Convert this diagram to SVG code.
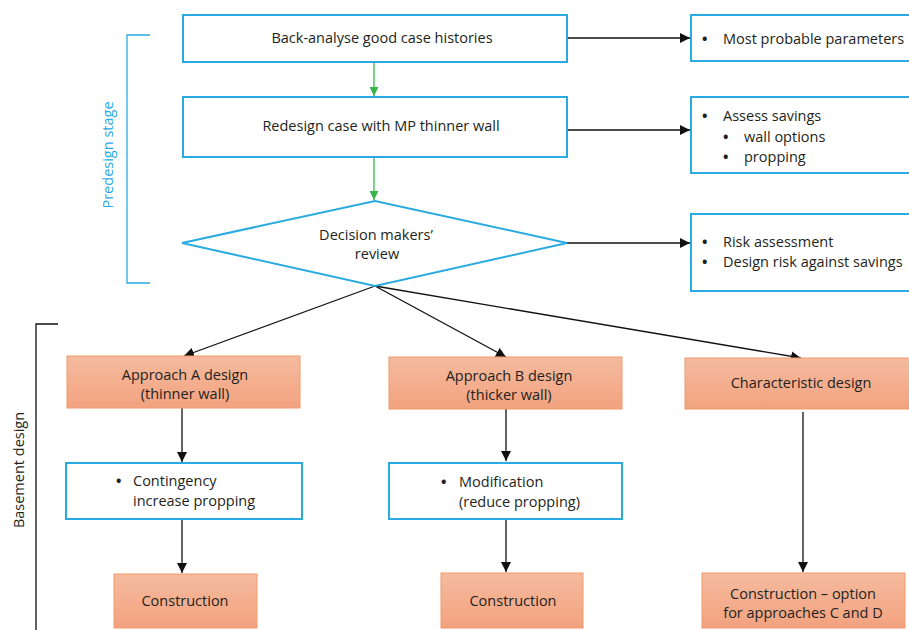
<svg xmlns="http://www.w3.org/2000/svg" width="909" height="630" viewBox="0 0 909 630">
<defs>
<linearGradient id="og" x1="0" y1="0" x2="0" y2="1">
<stop offset="0" stop-color="#f5bb9f"/>
<stop offset="1" stop-color="#f2a27f"/>
</linearGradient>
<marker id="ab" viewBox="0 0 10 10" refX="10" refY="5" markerWidth="10" markerHeight="10" markerUnits="userSpaceOnUse" orient="auto">
<path d="M0,0 L10,5 L0,10 z" fill="#111"/>
</marker>
<marker id="ag" viewBox="0 0 10 10" refX="10" refY="5" markerWidth="9" markerHeight="9" markerUnits="userSpaceOnUse" orient="auto">
<path d="M0,0 L10,5 L0,10 z" fill="#3bb54a"/>
</marker>
</defs>
<style>
text{font-family:"Open Sans","Noto Sans",sans-serif;font-size:14.5px;fill:#231f20}
.d{font-weight:bold}
.b{fill:#fff;stroke:#29abe2;stroke-width:2}
.o{fill:url(#og);stroke:#f29a6a;stroke-width:1}
.c{stroke:#111;stroke-width:1.3;fill:none;marker-end:url(#ab)}
.g{stroke:#3bb54a;stroke-width:1.3;fill:none;marker-end:url(#ag)}
.m{text-anchor:middle}
</style>
<rect width="909" height="630" fill="#fff"/>

<g id="predesign-bracket">
<path d="M150,35 H127 V283 H150" fill="none" stroke="#29abe2" stroke-width="1.3"/>
<text transform="translate(113,155) rotate(-90)" class="m" style="fill:#29abe2">Predesign stage</text>
</g>
<g id="basement-bracket">
<path d="M58,324 H36 V630" fill="none" stroke="#111" stroke-width="1.3"/>
<text transform="translate(24,470) rotate(-90)" class="m">Basement design</text>
</g>

<g id="connectors">
<line class="g" x1="374" y1="62" x2="374" y2="96"/>
<line class="g" x1="374" y1="157" x2="374" y2="200"/>
<line class="c" x1="567" y1="38" x2="690" y2="38"/>
<line class="c" x1="567" y1="130" x2="690" y2="130"/>
<line class="c" x1="567" y1="243" x2="690" y2="243"/>
<line class="c" x1="375" y1="286" x2="184" y2="356"/>
<line class="c" x1="375" y1="286" x2="506" y2="357"/>
<line class="c" x1="375" y1="286" x2="801" y2="358"/>
<line class="c" x1="182" y1="408" x2="182" y2="462"/>
<line class="c" x1="182" y1="519" x2="182" y2="573"/>
<line class="c" x1="506" y1="409" x2="506" y2="461"/>
<line class="c" x1="506" y1="519" x2="506" y2="572"/>
<line class="c" x1="803" y1="412" x2="803" y2="572"/>
</g>

<g id="back-analyse">
<rect class="b" x="183" y="15" width="384" height="47"/>
<text class="m" x="382" y="43">Back-analyse good case histories</text>
</g>
<g id="redesign">
<rect class="b" x="183" y="97" width="384" height="60"/>
<text class="m" x="381" y="131">Redesign case with MP thinner wall</text>
</g>
<g id="decision">
<polygon class="b" points="182,243 375,201 567,243 375,286"/>
<text class="m" x="376" y="240">Decision makers’</text>
<text class="m" x="377" y="259">review</text>
</g>

<g id="most-probable">
<rect class="b" x="691" y="15" width="230" height="46"/>
<text y="44"><tspan class="d" x="702">•</tspan><tspan x="723">Most probable parameters</tspan></text>
</g>
<g id="assess-savings">
<rect class="b" x="691" y="97" width="230" height="76"/>
<text y="121"><tspan class="d" x="702">•</tspan><tspan x="723">Assess savings</tspan></text>
<text y="142"><tspan class="d" x="723">•</tspan><tspan x="744">wall options</tspan></text>
<text y="162"><tspan class="d" x="723">•</tspan><tspan x="744">propping</tspan></text>
</g>
<g id="risk">
<rect class="b" x="691" y="214" width="230" height="77"/>
<text y="247"><tspan class="d" x="702">•</tspan><tspan x="723">Risk assessment</tspan></text>
<text y="267"><tspan class="d" x="702">•</tspan><tspan x="723">Design risk against savings</tspan></text>
</g>

<g id="approach-a">
<rect class="o" x="67" y="356" width="233" height="52"/>
<text class="m" x="185" y="380">Approach A design</text>
<text class="m" x="185" y="399">(thinner wall)</text>
</g>
<g id="contingency">
<rect class="b" x="66" y="463" width="236" height="56"/>
<text y="486"><tspan class="d" x="116">•</tspan><tspan x="133">Contingency</tspan></text>
<text x="133" y="506">increase propping</text>
</g>
<g id="construction-a">
<rect class="o" x="114" y="574" width="143" height="54"/>
<text class="m" x="185" y="606">Construction</text>
</g>

<g id="approach-b">
<rect class="o" x="389" y="357" width="233" height="52"/>
<text class="m" x="509" y="381">Approach B design</text>
<text class="m" x="509" y="400">(thicker wall)</text>
</g>
<g id="modification">
<rect class="b" x="389" y="463" width="233" height="56"/>
<text y="487"><tspan class="d" x="441">•</tspan><tspan x="459">Modification</tspan></text>
<text x="459" y="507">(reduce propping)</text>
</g>
<g id="construction-b">
<rect class="o" x="441" y="573" width="142" height="55"/>
<text class="m" x="513" y="606">Construction</text>
</g>

<g id="characteristic">
<rect class="o" x="685" y="358" width="240" height="51"/>
<text class="m" x="801" y="388">Characteristic design</text>
</g>
<g id="construction-c">
<rect class="o" x="702" y="573" width="203" height="55"/>
<text class="m" x="803" y="599">Construction – option</text>
<text class="m" x="803" y="618">for approaches C and D</text>
</g>
</svg>
